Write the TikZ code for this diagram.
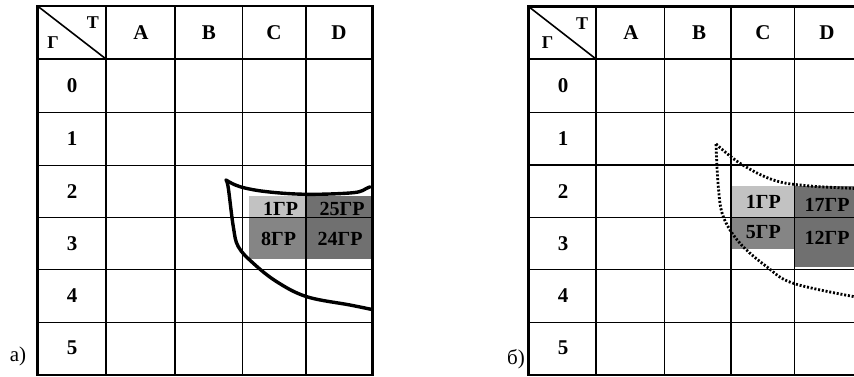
\documentclass[tikz,border=0pt]{standalone}
\usepackage{fontspec}
\setmainfont{Liberation Serif}
\begin{document}
\begin{tikzpicture}[x=1pt,y=-1pt,
  hdr/.style={font=\fontsize{21}{21}\selectfont\bfseries, inner sep=0pt},
  crn/.style={font=\fontsize{18}{18}\selectfont\bfseries, inner sep=0pt},
  grp/.style={font=\fontsize{20}{20}\selectfont\bfseries, inner sep=0pt},
  sublabel/.style={font=\fontsize{21}{21}\selectfont, inner sep=0pt},
  innerline/.style={line width=1.6pt},
  outerline/.style={line width=2.4pt},
  lightcell/.style={fill=black!24},
  midcell/.style={fill=black!48},
  darkcell/.style={fill=black!56},
  solidcurve/.style={line width=3.4pt, line cap=round, line join=round},
  dotcurve/.style={line width=2.8pt, dash pattern=on 2pt off 1.8pt}]
\useasboundingbox (0,0) rectangle (854,377);
\clip (0,0) rectangle (854,377);

% ---------- left table (a) ----------
\fill[lightcell] (249,195.7) rectangle (306,217.5);
\fill[midcell] (249,217.5) rectangle (306,259.3);
\fill[darkcell] (306,195.7) rectangle (371,259.3);

\foreach \x in {106,175,242.5,306} \draw[innerline] (\x,6) -- (\x,375);
\foreach \y in {59,112.5,165.5,217.5,269.5,322.5} \draw[innerline] (37.5,\y) -- (372.5,\y);
\draw[outerline] (37.5,6) rectangle (372.5,375);
\draw[innerline] (37.5,6) -- (106,59);

\node[crn] (aT) at (93,23) {Т};
\node[crn] (aG) at (53,43) {Г};
\node[hdr] (aA) at (141,33) {A};
\node[hdr] (aB) at (209,33) {B};
\node[hdr] (aC) at (274,33) {C};
\node[hdr] (aD) at (339,33) {D};
\node[hdr] (a0) at (72,86) {0};
\node[hdr] (a1) at (72,139) {1};
\node[hdr] (a2) at (72,192) {2};
\node[hdr] (a3) at (72,244) {3};
\node[hdr] (a4) at (72,296) {4};
\node[hdr] (a5) at (72,348) {5};

\node[grp] (a1gr) at (280.5,208.5) {1ГР};
\node[grp] (a25gr) at (342,208.5) {25ГР};
\node[grp] (a8gr) at (278.5,238.5) {8ГР};
\node[grp] (a24gr) at (340,238.5) {24ГР};

\draw[solidcurve] plot[smooth, tension=0.6] coordinates {(370,186.7) (366.7,188.3) (353.3,192.7) (306.7,194.3) (266.7,191.7) (240,186.7) (226,180)};
\draw[solidcurve] plot[smooth, tension=0.6] coordinates {(226,180) (228.3,188) (233.3,226.7) (238.3,246.7) (253.3,263.3) (276.7,281.7) (306.7,296.7) (350,305) (372,309.5)};

\node[sublabel] (acap) at (18,356) {а)};

% ---------- right table (б) ----------
\fill[lightcell] (732.3,186) rectangle (795,217.5);
\fill[midcell] (732.3,217.5) rectangle (795,248.5);
\fill[darkcell] (795,186) rectangle (860,266.7);

\foreach \x in {596,664.5,731,794.5} \draw[innerline] (\x,6.5) -- (\x,375);
\foreach \y in {59,112.5,165,217.5,269.5,322.5} \draw[innerline] (528.5,\y) -- (860,\y);
\draw[outerline] (528.5,6.5) rectangle (860,375);
\draw[innerline] (528.5,6.5) -- (596,59);

\node[crn] (bT) at (582,24) {Т};
\node[crn] (bG) at (547.5,43) {Г};
\node[hdr] (bA) at (631,33) {A};
\node[hdr] (bB) at (699,33) {B};
\node[hdr] (bC) at (763,33) {C};
\node[hdr] (bD) at (827,33) {D};
\node[hdr] (b0) at (563,86) {0};
\node[hdr] (b1) at (563,139) {1};
\node[hdr] (b2) at (563,192) {2};
\node[hdr] (b3) at (563,244) {3};
\node[hdr] (b4) at (563,296) {4};
\node[hdr] (b5) at (563,348) {5};

\node[grp] (b1gr) at (763.3,201.7) {1ГР};
\node[grp] (b5gr) at (763.3,231.7) {5ГР};
\node[grp] (b17gr) at (827,205) {17ГР};
\node[grp] (b12gr) at (827,238.3) {12ГР};

\draw[dotcurve] plot[smooth, tension=0.6] coordinates {(716,144) (740,163.3) (773.3,180) (806.7,185.7) (856,188.5)};
\draw[dotcurve] plot[smooth, tension=0.6] coordinates {(716,144) (718.3,186.7) (723.3,216.7) (740,243.3) (766.7,266.7) (793.3,283.3) (856,297)};

\node[sublabel] (bcap) at (516,359) {б)};
\end{tikzpicture}
\end{document}
